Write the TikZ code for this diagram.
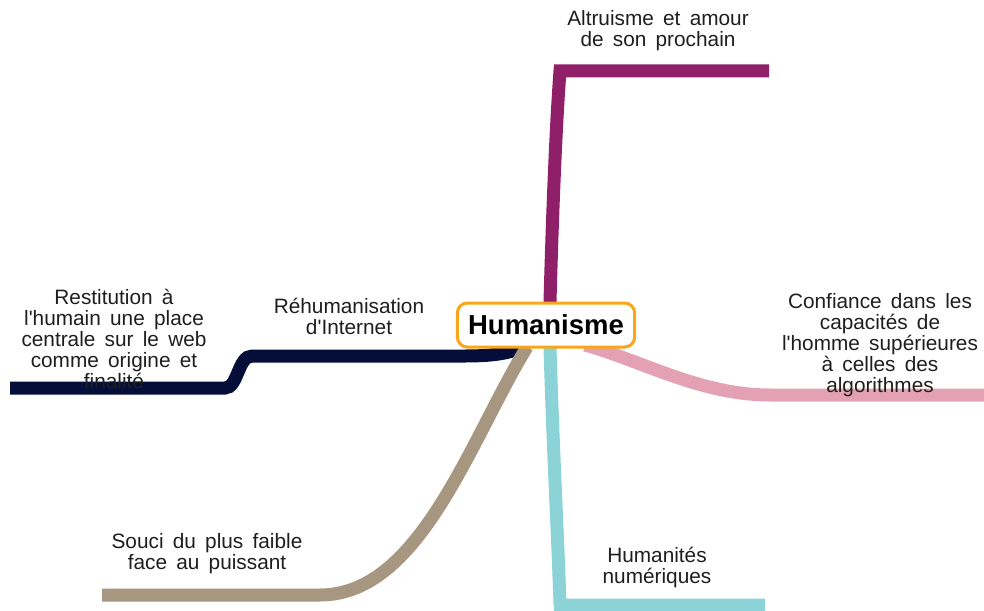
\documentclass[tikz,border=0pt]{standalone}
\usepackage{fontspec}
\setmainfont{Liberation Sans}[WordSpace=1.6]
\definecolor{navy}{RGB}{5,14,56}
\definecolor{plum}{RGB}{142,31,104}
\definecolor{tan}{RGB}{168,151,128}
\definecolor{aqua}{RGB}{139,211,214}
\definecolor{rose}{RGB}{228,160,180}
\definecolor{orng}{RGB}{250,166,26}
\definecolor{txt}{RGB}{30,30,30}
\begin{document}
\begin{tikzpicture}[x=0.75pt,y=-0.75pt,
  branch/.style={line width=9.75pt,line join=miter},
  lbl/.style={align=center,text=txt,font=\fontsize{15.6}{15.75}\selectfont,inner sep=0pt},
  central/.style={draw=orng,line width=2.25pt,rounded corners=7.5pt,fill=white,
    minimum width=133pt,minimum height=33pt,inner sep=2pt,
    font=\fontsize{20.6}{22}\selectfont\bfseries,text=black}]
\useasboundingbox (0,0) rectangle (984,610);
% anchors and free ends
\coordinate (pS) at (550,302);
\coordinate (pC) at (560,71);
\coordinate (pE) at (769,71);
\coordinate (nS) at (528,345);
\coordinate (nE) at (10,388);
\coordinate (tS) at (527,347);
\coordinate (tE) at (102,595);
\coordinate (cS) at (550,347);
\coordinate (cC) at (560,605);
\coordinate (cE) at (765,605);
\coordinate (rS) at (585,345);
\coordinate (rE) at (984,395);
% branches
\draw[branch,plum] (pS) .. controls (553,190) and (557,110) .. (pC) -- (pE);
\draw[branch,navy] (nS) .. controls (512,353) and (495,356) .. (465,356) -- (252,356)
   .. controls (238,356) and (238,388) .. (225,388) -- (nE);
\draw[branch,tan] (tS) .. controls (470,440) and (420,595) .. (320,595) -- (tE);
\draw[branch,aqua] (cS) .. controls (553,450) and (558,540) .. (cC) -- ([xshift=-4.5pt]cC) -- (cE);
\draw[branch,rose] (rS) .. controls (640,360) and (700,395) .. (770,395) -- (rE);
% central node
\node[central] (hum) at (546,325) {Humanisme};
% labels
\node[lbl] (lA) at (658,31) {Altruisme et amour\\de son prochain};
\node[lbl] (lR) at (114,339) {Restitution à\\l\textquotesingle humain une place\\centrale sur le web\\comme origine et\\finalité};
\node[lbl] (lI) at (349,316) {Réhumanisation\\d\textquotesingle Internet};
\node[lbl] (lC) at (880,345) {Confiance dans les\\capacités de\\l\textquotesingle homme supérieures\\à celles des\\algorithmes};
\node[lbl] (lS) at (207,554) {Souci du plus faible\\face au puissant};
\node[lbl] (lH) at (657,567) {Humanités\\numériques};
\end{tikzpicture}
\end{document}
